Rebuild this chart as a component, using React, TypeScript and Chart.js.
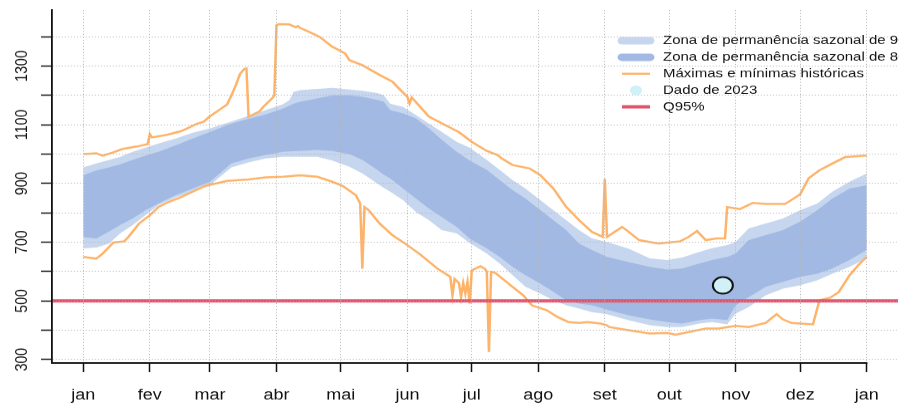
import { useEffect, useRef } from 'react';
import { Chart, registerables } from 'chart.js';

Chart.register(...registerables);

// ---------- data ----------
const monthDays = [1, 32, 60, 91, 121, 152, 182, 213, 244, 274, 305, 335, 366];
const monthLabels = ['jan', 'fev', 'mar', 'abr', 'mai', 'jun', 'jul', 'ago', 'set', 'out', 'nov', 'dez', 'jan'];
const yTickValues = [300, 400, 500, 600, 700, 800, 900, 1000, 1100, 1200, 1300, 1400];
const yLabelValues = [300, 500, 700, 900, 1100, 1300];

const bandDays = [1, 7, 13, 18, 24, 30, 36, 44, 52, 60, 70, 78, 86, 94, 97, 99, 102, 110, 117, 125, 131, 138, 141, 144, 150, 156, 162, 168, 175, 181, 189, 195, 201, 207, 214, 220, 226, 232, 238, 245, 255, 265, 273, 280, 288, 294, 301, 305, 311, 319, 327, 335, 343, 350, 358, 366];
const outerUpper = [955, 968, 980, 990, 1008, 1022, 1036, 1053, 1073, 1088, 1111, 1130, 1150, 1170, 1184, 1212, 1218, 1222, 1226, 1220, 1216, 1208, 1200, 1172, 1161, 1133, 1104, 1076, 1042, 1022, 980, 946, 912, 883, 843, 809, 775, 741, 713, 701, 678, 645, 639, 648, 667, 680, 690, 701, 747, 764, 781, 809, 832, 872, 906, 934];
const innerUpper = [928, 944, 955, 965, 980, 995, 1008, 1030, 1053, 1076, 1104, 1120, 1135, 1155, 1165, 1172, 1178, 1190, 1200, 1200, 1195, 1185, 1178, 1150, 1139, 1122, 1088, 1049, 1008, 978, 946, 912, 878, 849, 809, 775, 741, 695, 673, 650, 632, 616, 607, 610, 627, 639, 650, 661, 707, 724, 741, 770, 809, 849, 883, 894];
const innerLower = [718, 712, 736, 758, 781, 809, 832, 860, 883, 906, 968, 985, 997, 1008, 1009, 1010, 1011, 1014, 1011, 1000, 980, 946, 930, 917, 883, 849, 815, 786, 752, 712, 679, 650, 616, 588, 559, 531, 502, 491, 485, 470, 451, 437, 428, 423, 434, 440, 435, 485, 513, 548, 565, 582, 593, 610, 639, 673];
const outerLower = [679, 682, 695, 729, 758, 792, 826, 852, 872, 894, 955, 972, 985, 991, 991, 991, 991, 991, 978, 957, 934, 900, 885, 872, 843, 803, 775, 741, 730, 697, 661, 627, 588, 548, 525, 502, 485, 474, 462, 455, 434, 417, 411, 411, 423, 428, 420, 457, 479, 519, 542, 553, 570, 593, 616, 644];

const maxDays = [1, 7, 10, 15, 19, 26, 31, 32, 33, 40, 46, 49, 54, 57, 60, 64, 68, 70, 72, 74, 76, 77, 78, 83, 85, 89, 90, 91, 92, 97, 100, 101, 102, 106, 111, 117, 123, 125, 131, 139, 145, 148, 152, 153, 154, 162, 172, 176, 182, 189, 194, 196, 201, 209, 214, 220, 226, 232, 238, 243, 244, 245, 251, 252, 255, 260, 269, 279, 283, 287, 291, 296, 300, 301, 307, 313, 319, 328, 335, 339, 344, 350, 356, 366];
const maxValues = [1000, 1003, 995, 1006, 1017, 1026, 1034, 1068, 1057, 1066, 1077, 1086, 1104, 1110, 1129, 1149, 1169, 1200, 1234, 1273, 1290, 1292, 1127, 1145, 1162, 1190, 1200, 1439, 1443, 1442, 1432, 1436, 1430, 1417, 1400, 1366, 1343, 1320, 1303, 1270, 1247, 1224, 1195, 1173, 1193, 1128, 1090, 1075, 1042, 1011, 997, 985, 963, 951, 928, 883, 820, 775, 735, 718, 916, 718, 747, 752, 736, 707, 695, 703, 718, 738, 707, 713, 713, 820, 813, 834, 830, 830, 863, 918, 945, 968, 990, 995];

const minDays = [1, 7, 10, 13, 15, 20, 22, 27, 32, 36, 41, 46, 52, 58, 68, 78, 86, 94, 102, 110, 117, 122, 128, 130, 131, 132, 134, 139, 145, 152, 158, 166, 172, 173, 174, 176, 177, 178, 179, 180, 181, 182, 186, 188, 189, 190, 191, 193, 201, 206, 210, 217, 222, 227, 232, 236, 242, 245, 246, 255, 265, 273, 277, 283, 291, 297, 305, 311, 319, 324, 327, 331, 341, 344, 349, 353, 358, 362, 366];
const minValues = [650, 644, 661, 684, 699, 703, 718, 764, 792, 820, 838, 852, 872, 892, 909, 914, 921, 923, 928, 923, 906, 891, 860, 832, 610, 820, 809, 764, 724, 690, 658, 610, 582, 519, 575, 561, 513, 561, 525, 565, 491, 604, 618, 610, 600, 326, 599, 595, 548, 519, 485, 468, 445, 428, 425, 428, 423, 417, 411, 400, 389, 391, 385, 394, 406, 406, 415, 411, 425, 455, 437, 425, 420, 502, 511, 530, 587, 621, 650];

const obsDays = [299];
const obsValues = [553];
const q95Value = 500;

const legendLabels = [
  'Zona de permanência sazonal de 90%',
  'Zona de permanência sazonal de 80%',
  'Máximas e mínimas históricas',
  'Dado de 2023',
  'Q95%',
];

// ---------- styles ----------
const W = 899;
const H = 490;
const SQUISH = 407 / H;
const FONT = "'Liberation Sans', Arial, Helvetica, sans-serif";
const OUTER = '#C6D6EF';
const INNER = '#A2BAE3';
const ORANGE = '#FDB46A';
const RED = '#DF536B';
const CYAN = '#CFF1F7';
const GRID = '#B4B4B4';
const INK = '#111111';
const X_MIN = -13.6;
const X_MAX = 380.6;

const toXY = (days: number[], vals: number[]) => days.map((d, i) => ({ x: d, y: vals[i] }));

const axisLinePlugin = {
  id: 'xAxisLine',
  afterDraw(chart: any) {
    const { ctx, chartArea } = chart;
    const xs = chart.scales.x;
    ctx.save();
    ctx.strokeStyle = INK;
    ctx.lineWidth = 1.8;
    ctx.beginPath();
    ctx.moveTo(chartArea.left - 0.9, chartArea.bottom);
    ctx.lineTo(xs.getPixelForValue(monthDays[monthDays.length - 1]) + 0.75, chartArea.bottom);
    ctx.stroke();
    ctx.restore();
  },
};

const legendPlugin = {
  id: 'rLegend',
  afterDraw(chart: any) {
    const { ctx } = chart;
    const kinds = ['band', 'band', 'line', 'point', 'line'];
    const colors = [OUTER, INNER, ORANGE, CYAN, RED];
    const widths = [9, 9, 2.5, 0, 4];
    const x1 = 622;
    const x2 = 650;
    const tx = 663;
    ctx.save();
    legendLabels.forEach((label, i) => {
      const y = 49 + i * 19.9;
      if (kinds[i] === 'point') {
        ctx.fillStyle = colors[i];
        ctx.beginPath();
        ctx.arc((x1 + x2) / 2, y, 6, 0, Math.PI * 2);
        ctx.fill();
      } else {
        ctx.strokeStyle = colors[i];
        ctx.lineWidth = widths[i];
        ctx.lineCap = kinds[i] === 'band' ? 'round' : 'butt';
        ctx.beginPath();
        ctx.moveTo(x1, y);
        ctx.lineTo(x2, y);
        ctx.stroke();
      }
      ctx.fillStyle = INK;
      ctx.font = `15px ${FONT}`;
      ctx.textBaseline = 'middle';
      ctx.textAlign = 'left';
      ctx.fillText(label, tx, y);
    });
    ctx.restore();
  },
};

export default function App() {
  const ref = useRef<HTMLCanvasElement>(null);

  useEffect(() => {
    const canvas = ref.current;
    if (!canvas) return;
    const lineBase = { pointRadius: 0, pointHoverRadius: 0, tension: 0, fill: false };
    const chart = new Chart(canvas, {
      type: 'line',
      data: {
        datasets: [
          {
            label: legendLabels[3],
            data: toXY(obsDays, obsValues),
            showLine: false,
            pointRadius: 10,
            pointHoverRadius: 10,
            pointBackgroundColor: CYAN,
            pointBorderColor: INK,
            pointBorderWidth: 2,
            order: 0,
          },
          {
            ...lineBase,
            label: legendLabels[4],
            data: [{ x: X_MIN, y: q95Value }, { x: X_MAX, y: q95Value }],
            borderColor: RED,
            borderWidth: 4,
            order: 1,
          },
          {
            ...lineBase,
            label: legendLabels[2],
            data: toXY(maxDays, maxValues),
            borderColor: ORANGE,
            borderWidth: 2.5,
            order: 2,
          },
          {
            ...lineBase,
            label: 'Mínimas históricas',
            data: toXY(minDays, minValues),
            borderColor: ORANGE,
            borderWidth: 2.5,
            order: 3,
          },
          {
            ...lineBase,
            label: legendLabels[1],
            data: toXY(bandDays, innerUpper),
            borderColor: 'rgba(0,0,0,0)',
            borderWidth: 0,
            backgroundColor: INNER,
            fill: '+1',
            order: 4,
          },
          {
            ...lineBase,
            label: 'inner lower',
            data: toXY(bandDays, innerLower),
            borderColor: 'rgba(0,0,0,0)',
            borderWidth: 0,
            order: 5,
          },
          {
            ...lineBase,
            label: legendLabels[0],
            data: toXY(bandDays, outerUpper),
            borderColor: 'rgba(0,0,0,0)',
            borderWidth: 0,
            backgroundColor: OUTER,
            fill: '+1',
            order: 6,
          },
          {
            ...lineBase,
            label: 'outer lower',
            data: toXY(bandDays, outerLower),
            borderColor: 'rgba(0,0,0,0)',
            borderWidth: 0,
            order: 7,
          },
        ],
      },
      options: {
        responsive: false,
        animation: false,
        devicePixelRatio: 1,
        events: [],
        layout: { padding: { top: 12, right: 1, left: 0, bottom: 0 }, autoPadding: false },
        plugins: { legend: { display: false }, tooltip: { enabled: false } },
        scales: {
          x: {
            type: 'linear',
            min: X_MIN,
            max: X_MAX,
            afterBuildTicks: (s: any) => {
              s.ticks = monthDays.map((v) => ({ value: v }));
            },
            afterFit: (s: any) => {
              s.height = 53;
            },
            ticks: {
              autoSkip: false,
              minRotation: 0,
              maxRotation: 0,
              padding: 17,
              color: INK,
              font: { family: FONT, size: 18 },
              callback: (_v: any, i: number) => monthLabels[i],
            },
            grid: {
              color: GRID,
              lineWidth: 1,
              drawTicks: true,
              tickLength: 11,
              tickColor: INK,
              tickWidth: 1.5,
              z: 1,
            },
            border: { display: false, dash: [1.2, 2.4] },
          },
          y: {
            type: 'linear',
            min: 288.5,
            max: 1491,
            afterBuildTicks: (s: any) => {
              s.ticks = yTickValues.map((v) => ({ value: v }));
            },
            afterFit: (s: any) => {
              s.width = 52;
            },
            ticks: {
              autoSkip: false,
              minRotation: 90,
              maxRotation: 90,
              crossAlign: 'center',
              padding: 0,
              color: INK,
              font: { family: FONT, size: 17 },
              callback: (v: any) => (yLabelValues.includes(Number(v)) ? String(v) : ''),
            },
            grid: {
              color: GRID,
              lineWidth: 1,
              drawTicks: true,
              tickLength: 11,
              tickColor: INK,
              tickWidth: 1.5,
              z: 1,
            },
            border: { display: true, color: INK, width: 1.8, z: 2, dash: [1, 2] },
          },
        },
      } as any,
      plugins: [axisLinePlugin, legendPlugin],
    });
    return () => chart.destroy();
  }, []);

  return (
    <div
      style={{
        position: 'fixed',
        left: 0,
        top: 0,
        width: W,
        height: 407,
        overflow: 'hidden',
        background: '#ffffff',
      }}
    >
      <canvas
        ref={ref}
        width={W}
        height={H}
        style={{
          display: 'block',
          width: W,
          height: H,
          transform: `scaleY(${SQUISH})`,
          transformOrigin: '0 0',
        }}
      />
    </div>
  );
}
